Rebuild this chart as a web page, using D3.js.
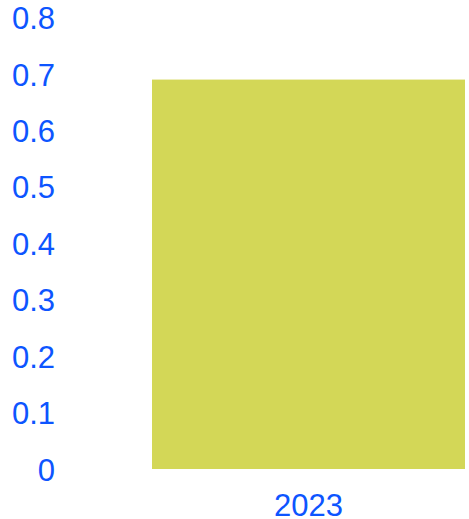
<!DOCTYPE html>
<html>
<head>
<script src="https://d3js.org/d3.v7.min.js"></script>
<style>
  body { margin: 0; background: #fff; }
  text { font-family: "Liberation Sans", Arial, sans-serif; }
</style>
</head>
<body>
<div id="chart"></div>
<script>
const categories = ["2023"];
const values = [0.69];
const yTicks = [0, 0.1, 0.2, 0.3, 0.4, 0.5, 0.6, 0.7, 0.8];

const width = 469, height = 519;
const margin = {top: 17.5, right: 4, bottom: 50, left: 152};

const svg = d3.select("#chart").append("svg")
  .attr("width", width)
  .attr("height", height);

const x = d3.scaleBand()
  .domain(categories)
  .range([margin.left, width - margin.right])
  .padding(0);

const y = d3.scaleLinear()
  .domain([0, 0.8])
  .range([height - margin.bottom, margin.top]);

// bars
svg.append("g")
  .selectAll("rect")
  .data(values)
  .enter()
  .append("rect")
  .attr("x", (d, i) => x(categories[i]))
  .attr("width", x.bandwidth())
  .attr("y", d => y(d))
  .attr("height", d => y(0) - y(d))
  .attr("fill", "#d3d757");

// y axis
const yAxis = svg.append("g")
  .attr("transform", "translate(55,0)")
  .call(d3.axisLeft(y).tickValues(yTicks).tickFormat(d3.format("~g")).tickSize(0).tickPadding(0));
yAxis.select(".domain").remove();
yAxis.selectAll("text")
  .attr("fill", "#0d55ff")
  .style("font-size", "31px")
  .attr("dy", "0.36em");

// x axis
const xAxis = svg.append("g")
  .attr("transform", `translate(0,${height - margin.bottom})`)
  .call(d3.axisBottom(x).tickSize(0).tickPadding(0));
xAxis.select(".domain").remove();
xAxis.selectAll("text")
  .attr("fill", "#0d55ff")
  .style("font-size", "31px")
  .attr("dy", "0")
  .attr("y", 47);
</script>
</body>
</html>
